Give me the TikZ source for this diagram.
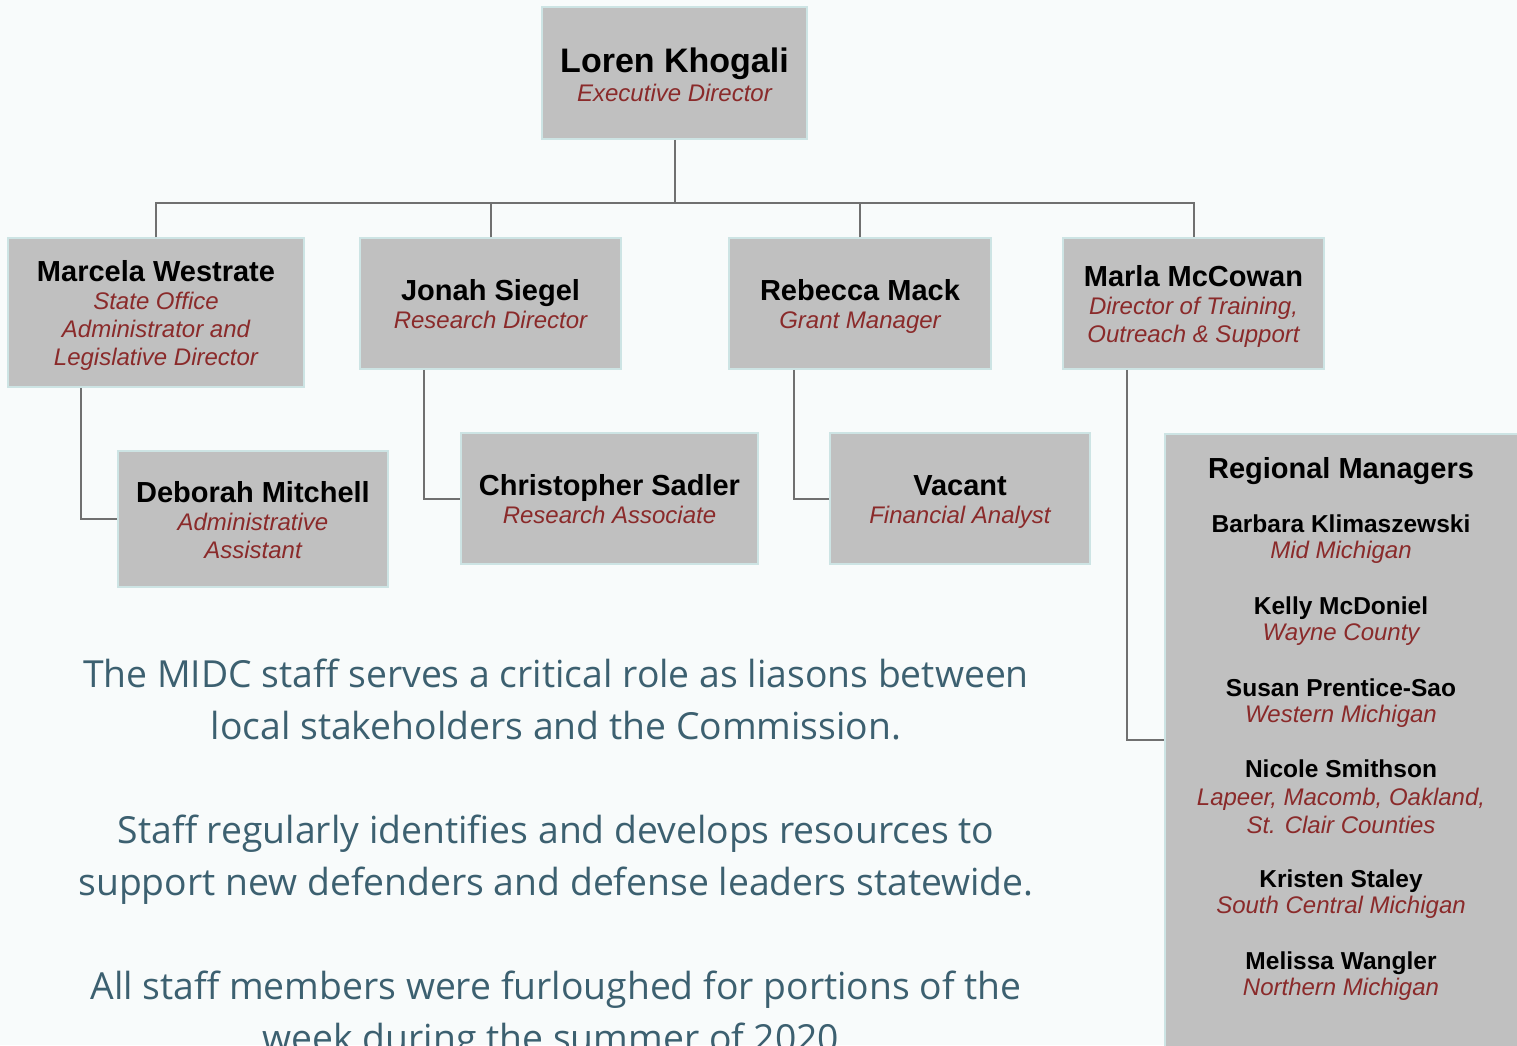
\documentclass[tikz,border=0pt]{standalone}
\usepackage{fontspec}
\setmainfont{Liberation Sans}
\newfontfamily\parafont{Open Sans}
\definecolor{bgc}{RGB}{248,251,251}
\definecolor{boxfill}{RGB}{192,192,192}
\definecolor{boxline}{RGB}{205,228,228}
\definecolor{rolec}{RGB}{138,42,42}
\definecolor{connc}{RGB}{112,112,112}
\definecolor{parac}{RGB}{60,96,112}
\newcommand\pname[1]{{\fontsize{29}{28}\selectfont\bfseries\rule{0pt}{27pt}#1}}
\newcommand\prole[1]{{\color{rolec}\itshape\vphantom{Jg}#1}}
\begin{document}
\begin{tikzpicture}[x=1pt,y=-1pt,
  box/.style={draw=boxline, line width=1.5pt, fill=boxfill, inner sep=0pt, align=center,
    font=\fontsize{24}{28}\selectfont},
  conn/.style={draw=connc, line width=2pt},
  rmname/.style={anchor=base, inner sep=0pt, font=\fontsize{24.5}{28}\selectfont\bfseries},
  rmrole/.style={anchor=base, inner sep=0pt, text=rolec, font=\fontsize{24}{28}\selectfont\itshape},
  para/.style={anchor=base, inner sep=0pt, text=parac, font=\parafont\fontsize{37.3}{52}\selectfont}]
\useasboundingbox (0,0) rectangle (1517,1045);
\clip (0,0) rectangle (1517,1045);
\fill[bgc] (0,0) rectangle (1517,1045);

% boxes
\node[box, minimum width=265pt, minimum height=132pt] (loren) at (674.5,73)
  {{\fontsize{34}{32}\selectfont\bfseries\rule{0pt}{32pt}Loren Khogali}\\[1pt]\prole{Executive Director}};
\node[box, minimum width=296pt, minimum height=149pt] (marcela) at (156,312.5)
  {\pname{Marcela Westrate}\\\prole{State Office}\\\prole{Administrator and}\\\prole{Legislative Director}};
\node[box, minimum width=261pt, minimum height=131pt] (jonah) at (490.5,303.5)
  {\pname{Jonah Siegel}\\\prole{Research Director}};
\node[box, minimum width=262pt, minimum height=131pt] (rebecca) at (860,303.5)
  {\pname{Rebecca Mack}\\\prole{Grant Manager}};
\node[box, minimum width=261pt, minimum height=131pt] (marla) at (1193.5,303.5)
  {\pname{Marla McCowan}\\\prole{Director of Training,}\\\prole{Outreach \& Support}};
\node[box, minimum width=270pt, minimum height=136pt] (deborah) at (253,519)
  {\pname{Deborah Mitchell}\\\prole{Administrative}\\\prole{Assistant}};
\node[box, minimum width=297pt, minimum height=131pt] (christopher) at (609.5,498.5)
  {\pname{Christopher Sadler}\\\prole{Research Associate}};
\node[box, minimum width=260pt, minimum height=131pt] (vacant) at (960,498.5)
  {\pname{Vacant}\\\prole{Financial Analyst}};
\node[box, minimum width=370pt, minimum height=640pt, anchor=north west] (regional) at (1164,433) {};

% connectors
\draw[conn] (loren.south) -- ++(0,63) coordinate (bus);
\draw[conn] (marcela.north) -- (marcela.north |- bus) -- (marla.north |- bus) -- (marla.north);
\draw[conn] (jonah.north) -- (jonah.north |- bus);
\draw[conn] (rebecca.north) -- (rebecca.north |- bus);
\draw[conn] ([xshift=74pt]marcela.south west) |- (deborah.west);
\draw[conn] ([xshift=65pt]jonah.south west) |- (christopher.west);
\draw[conn] ([xshift=66pt]rebecca.south west) |- (vacant.west);
\draw[conn] ([xshift=65pt]marla.south west) |- ([yshift=-307pt]regional.north west);

% regional managers
\node[rmname, font=\fontsize{29}{28}\selectfont\bfseries] (rmt) at (1341,478) {Regional Managers};
\node[rmname] (rm1) at (1341,532) {Barbara Klimaszewski};
\node[rmrole] (rr1) at (1341,558) {Mid Michigan};
\node[rmname] (rm2) at (1341,614) {Kelly McDoniel};
\node[rmrole] (rr2) at (1341,640) {Wayne County};
\node[rmname] (rm3) at (1341,696) {Susan Prentice-Sao};
\node[rmrole] (rr3) at (1341,722) {Western Michigan};
\node[rmname] (rm4) at (1341,777) {Nicole Smithson};
\node[rmrole] (rr4a) at (1341,805) {Lapeer, Macomb, Oakland,};
\node[rmrole] (rr4b) at (1341,833) {St. Clair Counties};
\node[rmname] (rm5) at (1341,887) {Kristen Staley};
\node[rmrole] (rr5) at (1341,913) {South Central Michigan};
\node[rmname] (rm6) at (1341,969) {Melissa Wangler};
\node[rmrole] (rr6) at (1341,995) {Northern Michigan};

% paragraph text
\node[para] (p1) at (556,687) {The MIDC staff serves a critical role as liasons between};
\node[para] (p2) at (556,739) {local stakeholders and the Commission.};
\node[para] (p3) at (556,843) {Staff regularly identifies and develops resources to};
\node[para] (p4) at (556,895) {support new defenders and defense leaders statewide.};
\node[para] (p5) at (556,999) {All staff members were furloughed for portions of the};
\node[para] (p6) at (556,1051) {week during the summer of 2020.};
\end{tikzpicture}
\end{document}
